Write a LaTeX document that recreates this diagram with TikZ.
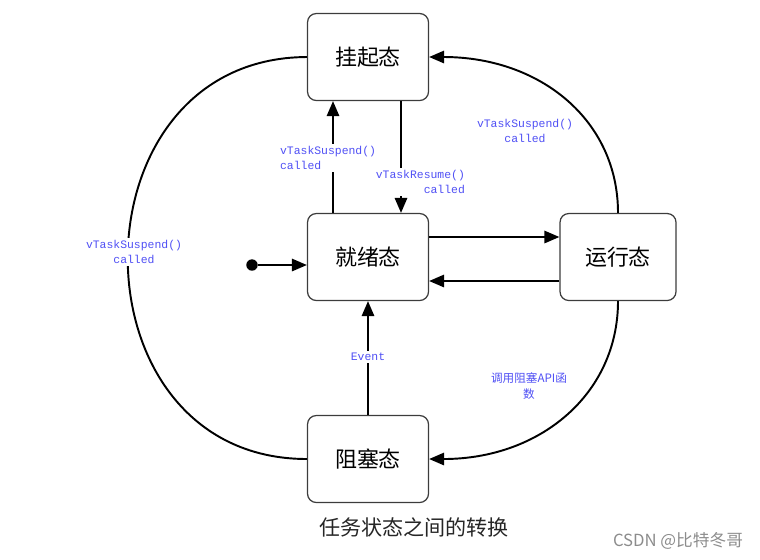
\documentclass[tikz,border=0pt]{standalone}
\usepackage{fontspec}
\setmonofont{Liberation Mono}
\newfontfamily\cjk{Noto Sans CJK SC}
\usepackage{tikz}
\usetikzlibrary{arrows.meta,positioning,calc}

\definecolor{lblue}{RGB}{80,80,245}
\definecolor{boxgray}{RGB}{60,60,60}

\begin{document}
\begin{tikzpicture}[x=0.02cm,y=-0.02cm,
    state/.style={draw=boxgray, line width=0.7pt, rounded corners=5pt, minimum width=2.42cm, minimum height=1.74cm, font=\cjk\fontsize{12.5}{15}\selectfont},
    arr/.style={line width=1.1pt, -{Triangle[length=8.5pt,width=7pt]}},
    lbl/.style={font=\ttfamily\fontsize{6.5}{9}\selectfont, text=lblue, fill=white, inner sep=1pt, align=center}]
    \useasboundingbox (0,0) rectangle (760,559);

    % states
    \node[state] (susp) at (368,57) {挂起态};
    \node[state] (ready) at (368,257) {就绪态};
    \node[state, minimum width=2.32cm] (run) at (618,257) {运行态};
    \node[state] (block) at (368,459) {阻塞态};
    \node[circle, fill, inner sep=0pt, minimum size=6.5pt] (start) at (252,265) {};

    % transitions
    \draw[arr] (start) -- (start -| ready.west);
    \draw[arr] ($(ready.north)+(-35,0)$) -- ($(susp.south)+(-35,0)$);
    \draw[arr] ($(susp.south)+(33,0)$) -- ($(ready.north)+(33,0)$);
    \draw[arr] ($(ready.east)+(0,-20)$) -- ($(run.west)+(0,-20)$);
    \draw[arr] ($(run.west)+(0,24)$) -- ($(ready.east)+(0,24)$);
    \draw[arr] (block.north) -- (ready.south);
    \draw[line width=1.1pt] (susp.west) .. controls (68,58) and (68,459) .. (block.west);
    \draw[arr] (run.north) .. controls (618,120) and (540,57) .. (susp.east);
    \draw[arr] (run.south) .. controls (618,394) and (540,459) .. (block.east);

    % labels
    \node[lbl, align=left, anchor=west] (lsusp) at (278,158) {vTaskSuspend()\\called};
    \node[lbl, align=right, anchor=east] (lres) at (467,182) {vTaskResume()\\called};
    \node[lbl] (lrun) at (525,131) {vTaskSuspend()\\called};
    \node[lbl] (lblk) at (134,252) {vTaskSuspend()\\called};
    \node[lbl] (levt) at (368,357) {Event};
    \node[lbl, font=\cjk\fontsize{6.6}{9}\selectfont] (lapi) at (529,386) {调用阻塞API函\\数};

    \node[font=\cjk\fontsize{12}{14}\selectfont, text=black!85] (title) at (414,527) {任务状态之间的转换};
    \node[font=\cjk\fontsize{9.5}{11}\selectfont, text=black!45] (mark) at (678,541) {CSDN @比特冬哥};
\end{tikzpicture}
\end{document}
